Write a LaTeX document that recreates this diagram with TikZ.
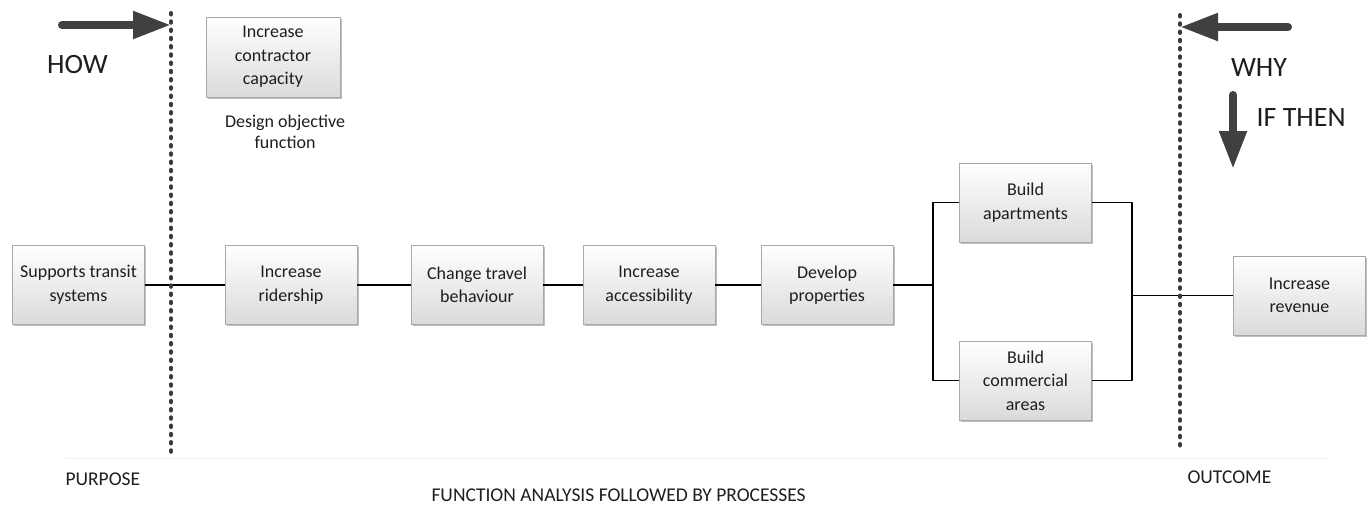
\documentclass[tikz,border=0pt]{standalone}
\usepackage{fontspec}
\setmainfont{Carlito}
\usetikzlibrary{arrows.meta,shadows}

\definecolor{arrowgray}{HTML}{404040}
\definecolor{dotgray}{HTML}{3A3A3A}
\definecolor{boxedge}{HTML}{A8A8A8}
\definecolor{boxbottom}{HTML}{DADADA}
\definecolor{textgray}{HTML}{1E1E1E}

\begin{document}
\begin{tikzpicture}[x=1pt, y=-1pt, line join=round,
  fnbox/.style={draw=boxedge, line width=0.8pt, top color=white, bottom color=boxbottom,
    minimum width=132pt, minimum height=79pt, inner sep=2pt, align=center, text=textgray,
    font=\fontsize{18}{23.5}\selectfont,
    drop shadow={shadow xshift=1.5pt, shadow yshift=-1.5pt, opacity=0.25, fill=black}},
  conn/.style={line width=1.5pt, black},
  sightline/.style={dotgray, line width=4pt, line cap=round, dash pattern=on 1.5pt off 6.75pt},
  bigarrow/.style={arrowgray, line width=8pt, line cap=round, -{Triangle[length=38pt,width=26pt]}},
  biglabel/.style={text=textgray, font=\fontsize{28}{34}\selectfont},
  footlabel/.style={text=textgray, font=\fontsize{19.5}{23}\selectfont}]

  % Frame of the picture.
  \useasboundingbox (0,0) rectangle (1370,504);

  % Functions along the main path.
  \node[fnbox] (transit) at (78.5,285) {Supports transit\\systems};
  \node[fnbox] (ridership) at (291,285) {Increase\\ridership};
  \node[fnbox] (travel) at (477,285) {Change travel\\behaviour};
  \node[fnbox] (access) at (649,285) {Increase\\accessibility};
  \node[fnbox] (develop) at (827,285) {Develop\\properties};

  % Parallel branch and outcome.
  \node[fnbox] (apart) at (1025.5,202.5) {Build\\apartments};
  \node[fnbox] (commerce) at (1025.5,380.5) {Build\\commercial\\areas};
  \node[fnbox] (revenue) at (1299.5,295.5) {Increase\\revenue};

  % Design objective function.
  \node[fnbox, minimum width=134pt, minimum height=80pt] (contractor) at (273,57) {Increase\\contractor\\capacity};
  \node[align=center, text=textgray, font=\fontsize{18}{21}\selectfont] (objective) at (285,132) {Design objective\\function};

  % Junctions of the branch.
  \coordinate (splitL) at (933,285);
  \coordinate (splitR) at (1132,295.5);

  % Connectors.
  \draw[conn] (transit) -- (ridership);
  \draw[conn] (ridership) -- (travel);
  \draw[conn] (travel) -- (access);
  \draw[conn] (access) -- (develop);
  \draw[conn] (develop) -- (splitL);
  \draw[conn] (splitL) |- (apart.west);
  \draw[conn] (splitL) |- (commerce.west);
  \draw[conn] (apart.east) -| (splitR);
  \draw[conn] (commerce.east) -| (splitR);
  \draw[conn] (splitR) -- (revenue);

  % Scope lines: purpose on the left, outcome on the right.
  \draw[sightline] (171,13) -- (171,452);
  \draw[sightline] (1180,15) -- (1180,452);
  \draw[gray!12, line width=1pt] (66,458) -- (1330,458);

  % HOW / WHY arrows.
  \coordinate (howtail) at (62,25);
  \coordinate (howtip) at (171,25);
  \coordinate (whytail) at (1288,27);
  \coordinate (whytip) at (1180,27);
  \coordinate (iftail) at (1233,95);
  \coordinate (iftip) at (1233,169);
  \draw[bigarrow] (howtail) -- (howtip);
  \draw[bigarrow] (whytail) -- (whytip);
  \draw[bigarrow] (iftail) -- (iftip);

  \node[biglabel] (how) at (77.5,65) {HOW};
  \node[biglabel] (why) at (1259,68) {WHY};
  \node[biglabel, anchor=west] (ifthen) at (1253,118) {IF THEN};

  % Footer.
  \node[footlabel, anchor=west] (purpose) at (62,479) {PURPOSE};
  \node[footlabel, anchor=west] (outcome) at (1184,477) {OUTCOME};
  \node[footlabel, anchor=west] (caption) at (428,495) {FUNCTION ANALYSIS FOLLOWED BY PROCESSES};

\end{tikzpicture}
\end{document}
